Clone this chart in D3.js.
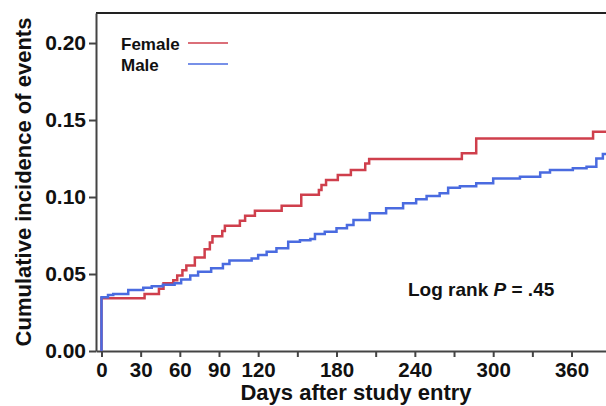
<!DOCTYPE html>
<html>
<head>
<meta charset="utf-8">
<script src="https://cdn.jsdelivr.net/npm/d3@7"></script>
<style>
  body { margin: 0; background: #fff; }
  text { font-family: "Liberation Sans", Arial, sans-serif; font-weight: bold; fill: #111; }
</style>
</head>
<body>
<svg id="chart" width="606" height="406"></svg>
<script>
// step points (day, cumulative incidence)
var femaleDays = [0, 0, 33, 44, 47.5, 55, 58, 62, 65, 71.5, 79, 83, 85, 92.5, 94.5, 106, 110, 117.5, 138, 153, 166.5, 168.5, 172, 181, 191, 202, 205, 276, 287, 376.5, 386.4];
var femaleInc  = [0, 0.0342, 0.037, 0.0405, 0.044, 0.046, 0.049, 0.0525, 0.0555, 0.0608, 0.066, 0.0705, 0.0745, 0.078, 0.0814, 0.0846, 0.0879, 0.091, 0.0944, 0.1015, 0.1045, 0.1078, 0.111, 0.1143, 0.1175, 0.1218, 0.1247, 0.1284, 0.138, 0.1424, 0.1424];

var maleDays = [0, 0, 5, 9, 20.5, 32, 38.5, 47, 56, 61, 68, 74, 84, 93, 98, 115, 120, 126.5, 134, 143, 152, 160, 163.5, 171, 180, 188, 193, 205.5, 218, 231, 241, 249, 259, 265.5, 274.5, 287, 300, 320.5, 336, 343.5, 361, 371.5, 379, 384, 386.4];
var maleInc  = [0, 0.0349, 0.0364, 0.037, 0.0396, 0.041, 0.042, 0.043, 0.044, 0.0465, 0.049, 0.0515, 0.0537, 0.0565, 0.0588, 0.060, 0.0623, 0.0645, 0.0667, 0.071, 0.072, 0.0727, 0.076, 0.0775, 0.0797, 0.0818, 0.085, 0.0894, 0.0927, 0.0959, 0.0985, 0.1006, 0.1024, 0.106, 0.107, 0.1089, 0.112, 0.1132, 0.116, 0.1175, 0.1186, 0.1197, 0.125, 0.128, 0.128];

var xTicks = [0, 30, 60, 90, 120, 150, 180, 210, 240, 270, 300, 330, 360];
var xLabels = [0, 30, 60, 90, 120, 180, 240, 300, 360];
var yTicks = [0, 0.05, 0.10, 0.15, 0.20];

var seriesNames = ["Female", "Male"];
var colors = ["#cf3f4c", "#4a6be0"];

var svg = d3.select("#chart");

// plot edges (don't call these top/left, window.top is reserved)
var plotL = 96, plotR = 606, plotT = 13, plotB = 351;

var x = d3.scaleLinear().domain([-4.2, 386.4]).range([plotL, plotR]);
var y = d3.scaleLinear().domain([0, 0.2195]).range([plotB, plotT]);

// top frame line
svg.append("line")
  .attr("x1", plotL).attr("x2", plotR)
  .attr("y1", plotT).attr("y2", plotT)
  .attr("stroke", "#222").attr("stroke-width", 2);

// x axis
var xAxis = svg.append("g")
  .attr("transform", "translate(0," + plotB + ")")
  .call(d3.axisBottom(x).tickValues(xTicks).tickSize(6).tickSizeOuter(0)
    .tickFormat(function(d) { return xLabels.indexOf(d) >= 0 ? d : ""; }));
xAxis.select(".domain").attr("stroke", "#444").attr("stroke-width", 2);
xAxis.selectAll(".tick line").attr("stroke", "#444").attr("stroke-width", 2);
xAxis.selectAll(".tick text")
  .attr("dy", null).attr("y", 26)
  .style("font-size", "20.5px").style("font-weight", "bold")
  .style("font-family", "'Liberation Sans', Arial, sans-serif").attr("fill", "#111");

// y axis
var yAxis = svg.append("g")
  .attr("transform", "translate(" + plotL + ",0)")
  .call(d3.axisLeft(y).tickValues(yTicks).tickSize(7).tickSizeOuter(0)
    .tickFormat(d3.format(".2f")));
yAxis.select(".domain").attr("stroke", "#444").attr("stroke-width", 2);
yAxis.selectAll(".tick line").attr("stroke", "#444").attr("stroke-width", 2);
yAxis.selectAll(".tick text")
  .attr("x", -10)
  .style("font-size", "21px").style("font-weight", "bold")
  .style("font-family", "'Liberation Sans', Arial, sans-serif").attr("fill", "#111");

// curves
var line = d3.line()
  .x(function(d) { return x(d[0]); })
  .y(function(d) { return y(d[1]); })
  .curve(d3.curveStepAfter);

var female = d3.zip(femaleDays, femaleInc);
var male = d3.zip(maleDays, maleInc);

svg.append("path").datum(female)
  .attr("d", line).attr("fill", "none")
  .attr("stroke", colors[0]).attr("stroke-width", 2.5);
svg.append("path").datum(male)
  .attr("d", line).attr("fill", "none")
  .attr("stroke", colors[1]).attr("stroke-width", 2.5);

// legend
seriesNames.forEach(function(name, i) {
  var ly = 44 + i * 21;
  svg.append("text").attr("x", 121).attr("y", ly + 6)
    .style("font-size", "17px").text(name);
  svg.append("line")
    .attr("x1", 188).attr("x2", 228)
    .attr("y1", ly - 1).attr("y2", ly - 1)
    .attr("stroke", colors[i]).attr("stroke-width", 1.5);
});

// axis titles
svg.append("text")
  .attr("transform", "translate(31,182) rotate(-90)")
  .attr("text-anchor", "middle")
  .style("font-size", "22px")
  .text("Cumulative incidence of events");

svg.append("text")
  .attr("x", 356).attr("y", 400)
  .attr("text-anchor", "middle")
  .style("font-size", "22px")
  .text("Days after study entry");

// log rank annotation
var note = svg.append("text").attr("x", 408).attr("y", 296)
  .style("font-size", "19px");
note.append("tspan").text("Log rank ");
note.append("tspan").style("font-style", "italic").text("P");
note.append("tspan").text(" = .45");
</script>
</body>
</html>
